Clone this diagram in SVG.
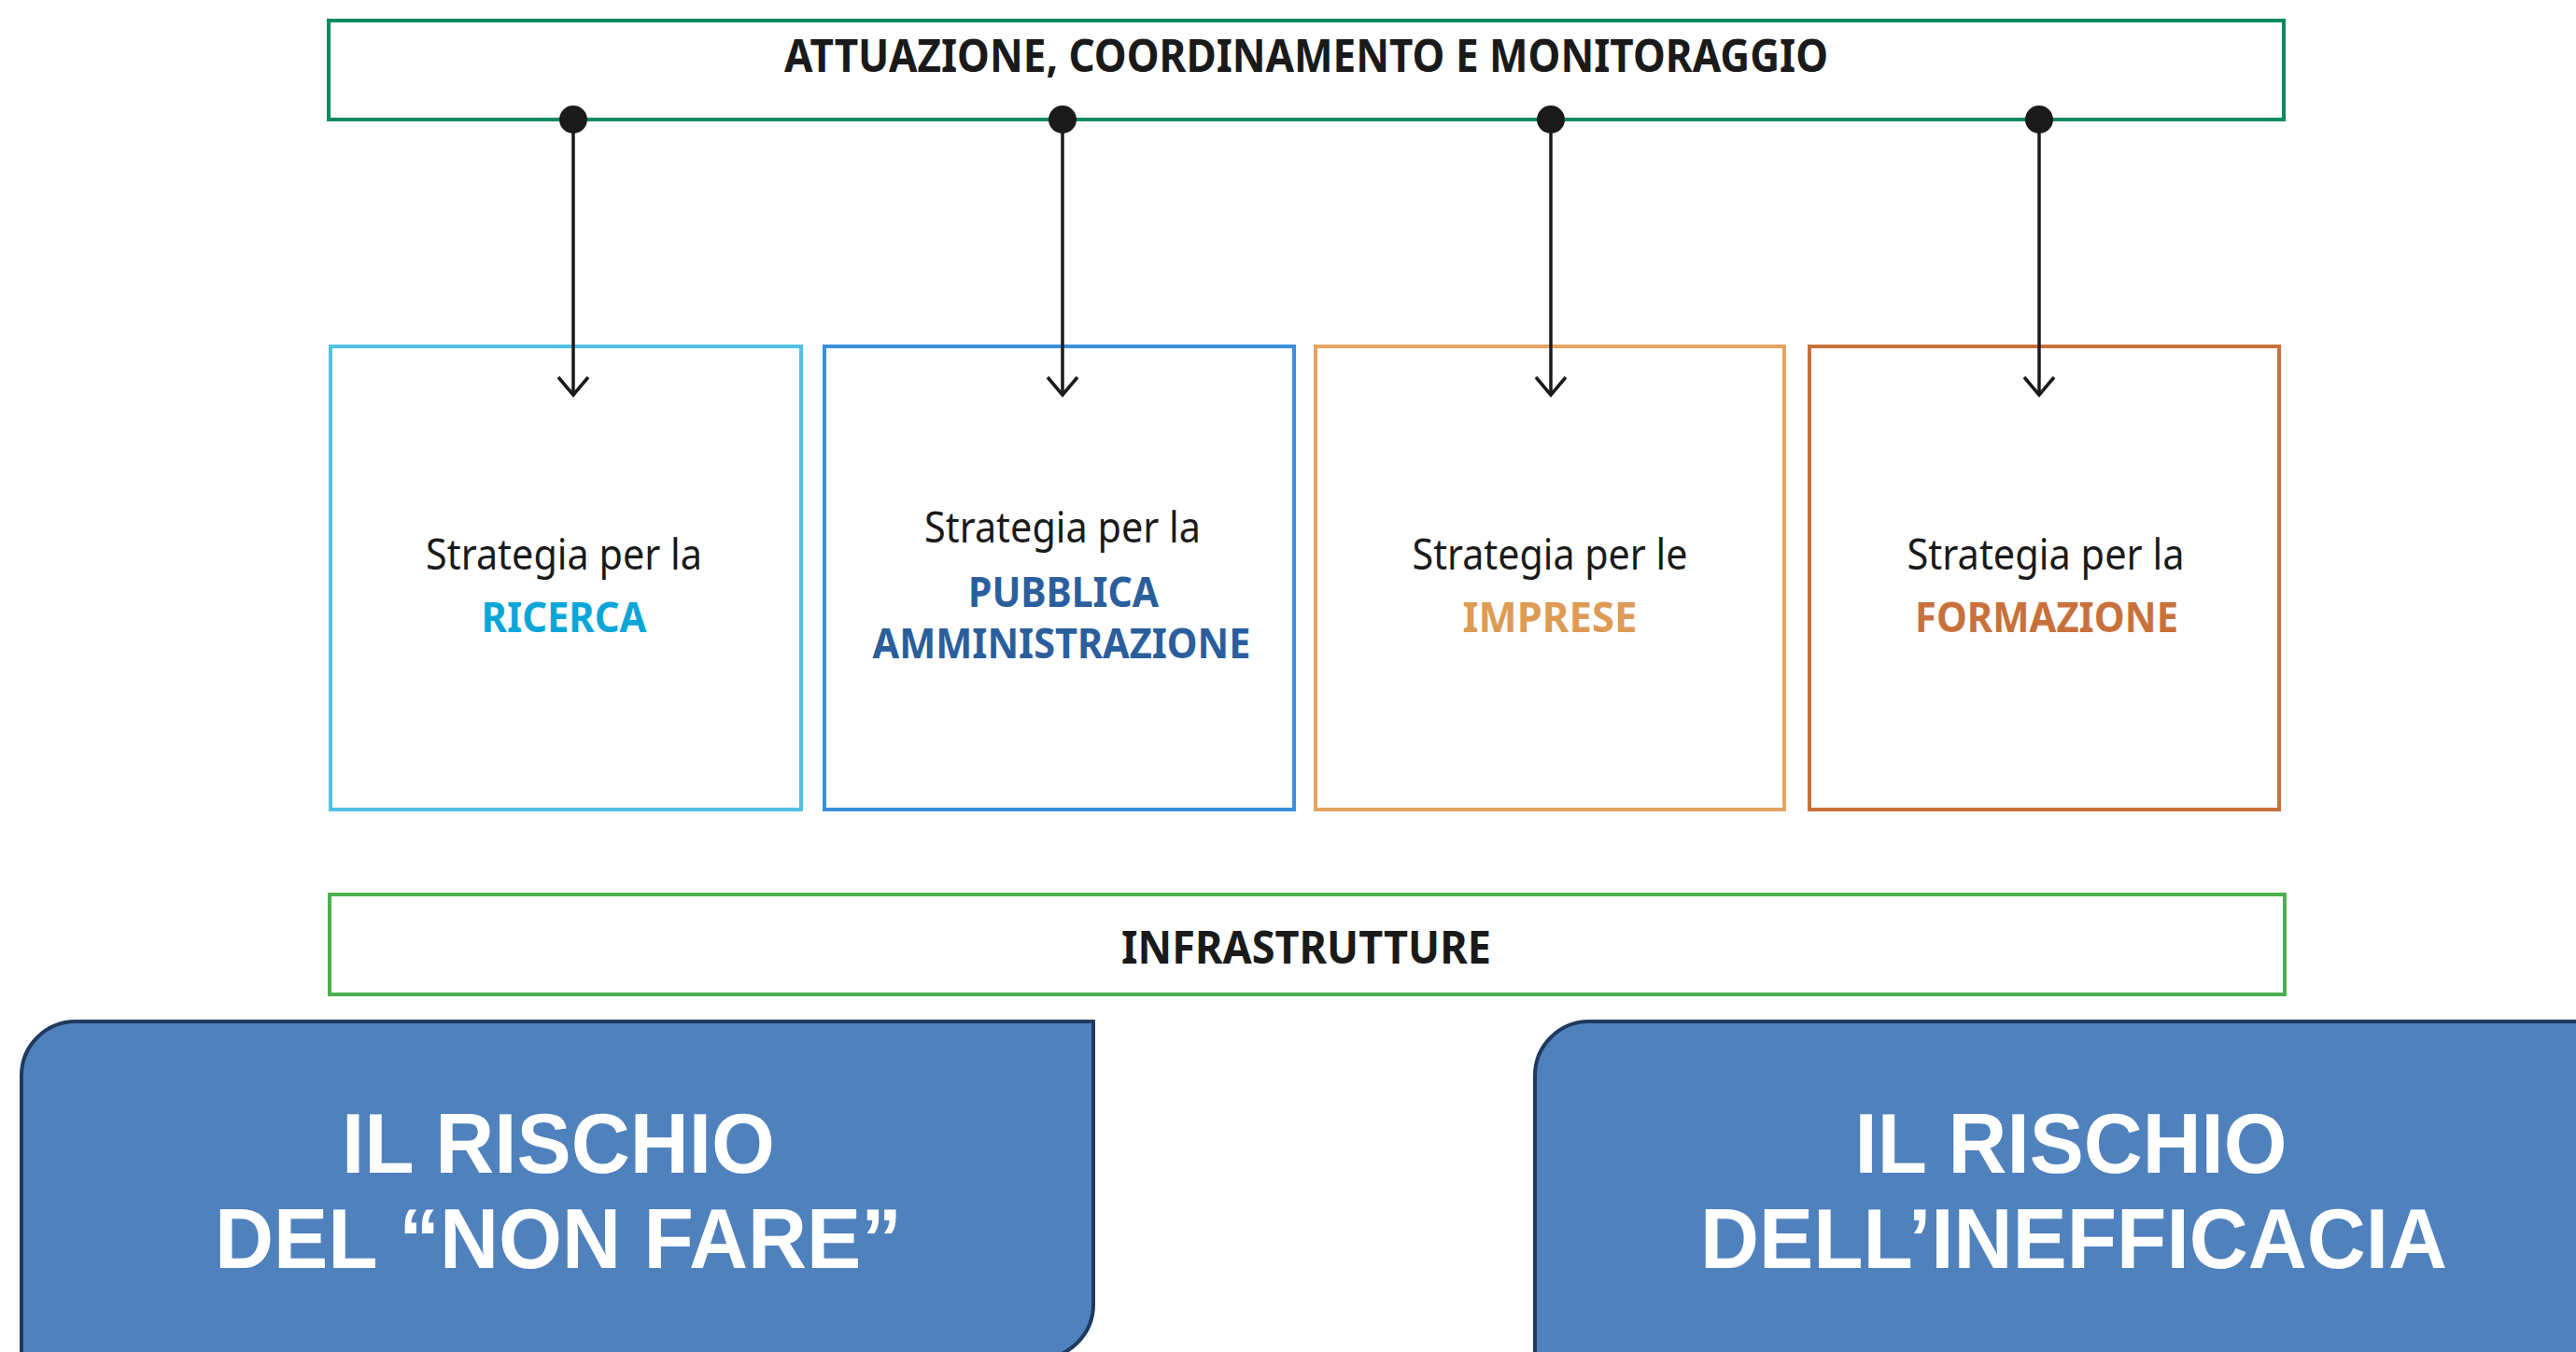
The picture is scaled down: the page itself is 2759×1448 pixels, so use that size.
<svg xmlns="http://www.w3.org/2000/svg" width="2759" height="1448" viewBox="0 0 2759 1448">
<style>
.bg{fill:#ffffff}
.box{fill:#ffffff;stroke-width:4}
.t{font-family:"Noto Sans","Open Sans",sans-serif;fill:#1a1a1a;text-anchor:middle}
.sub{font-size:45px;font-weight:400}
.hd{font-size:49px;font-weight:700}
.kw{font-size:44px;font-weight:700}
.risk{fill:#4f81bd;stroke:#1f3a5f;stroke-width:4}
.rt{font-family:"Liberation Sans",Arial,sans-serif;font-size:91px;font-weight:700;fill:#ffffff;text-anchor:middle}
.conn{stroke:#1a1a1a;stroke-width:3.5;fill:none}
</style>
<defs>
<marker id="arrow" markerUnits="userSpaceOnUse" markerWidth="40" markerHeight="40" viewBox="0 0 40 40" refX="21" refY="20" orient="auto">
<path d="M2,4 L21,20 L2,36" fill="none" stroke="#1a1a1a" stroke-width="3.5"/>
</marker>
<marker id="dot" markerUnits="userSpaceOnUse" markerWidth="34" markerHeight="34" viewBox="0 0 34 34" refX="17" refY="17" orient="auto">
<circle cx="17" cy="17" r="15" fill="#1a1a1a"/>
</marker>
</defs>
<rect class="bg" x="0" y="0" width="2759" height="1448"/>

<g id="node-attuazione">
<rect class="box" x="352" y="22" width="2094" height="106" stroke="#0b8a5e"/>
<text class="t hd" x="1399" y="77" textLength="1118" lengthAdjust="spacingAndGlyphs">ATTUAZIONE, COORDINAMENTO E MONITORAGGIO</text>
</g>

<g id="node-ricerca">
<rect class="box" x="354" y="371" width="504" height="496" stroke="#50c1e6"/>
<text class="t sub" x="604" y="610" textLength="296" lengthAdjust="spacingAndGlyphs">Strategia per la</text>
<text class="t kw" x="604" y="677" textLength="177" lengthAdjust="spacingAndGlyphs" style="fill:#0aa6d8">RICERCA</text>
</g>

<g id="node-pa">
<rect class="box" x="883" y="371" width="503" height="496" stroke="#3990dc"/>
<text class="t sub" x="1138" y="581" textLength="296" lengthAdjust="spacingAndGlyphs">Strategia per la</text>
<text class="t kw" x="1139" y="650" textLength="204" lengthAdjust="spacingAndGlyphs" style="fill:#2a5e9c">PUBBLICA</text>
<text class="t kw" x="1137" y="705" textLength="405" lengthAdjust="spacingAndGlyphs" style="fill:#2a5e9c">AMMINISTRAZIONE</text>
</g>

<g id="node-imprese">
<rect class="box" x="1409" y="371" width="502" height="496" stroke="#e3a462"/>
<text class="t sub" x="1660" y="610" textLength="295" lengthAdjust="spacingAndGlyphs">Strategia per le</text>
<text class="t kw" x="1660" y="677" textLength="187" lengthAdjust="spacingAndGlyphs" style="fill:#dd9b55">IMPRESE</text>
</g>

<g id="node-formazione">
<rect class="box" x="1938" y="371" width="503" height="496" stroke="#c9713a"/>
<text class="t sub" x="2191" y="610" textLength="297" lengthAdjust="spacingAndGlyphs">Strategia per la</text>
<text class="t kw" x="2192" y="677" textLength="282" lengthAdjust="spacingAndGlyphs" style="fill:#c8713b">FORMAZIONE</text>
</g>

<g id="node-infrastrutture">
<rect class="box" x="353" y="958" width="2094" height="107" stroke="#4caf50"/>
<text class="t hd" x="1399" y="1032" textLength="396" lengthAdjust="spacingAndGlyphs">INFRASTRUTTURE</text>
</g>

<g id="node-rischio-non-fare">
<path class="risk" d="M23,1152 A58,58 0 0 1 81,1094 L1171,1094 L1171,1397 A58,58 0 0 1 1113,1455 L23,1455 Z"/>
<text class="rt" x="598" y="1256" textLength="464" lengthAdjust="spacingAndGlyphs">IL RISCHIO</text>
<text class="rt" x="598" y="1358" textLength="736" lengthAdjust="spacingAndGlyphs">DEL “NON FARE”</text>
</g>

<g id="node-rischio-inefficacia">
<path class="risk" d="M1644,1152 A58,58 0 0 1 1702,1094 L2810,1094 L2810,1455 L1644,1455 Z"/>
<text class="rt" x="2218" y="1256" textLength="463" lengthAdjust="spacingAndGlyphs">IL RISCHIO</text>
<text class="rt" x="2221" y="1358" textLength="800" lengthAdjust="spacingAndGlyphs">DELL’INEFFICACIA</text>
</g>

<g id="connectors">
<path class="conn" d="M614,128 L614,423" marker-start="url(#dot)" marker-end="url(#arrow)"/>
<path class="conn" d="M1138,128 L1138,423" marker-start="url(#dot)" marker-end="url(#arrow)"/>
<path class="conn" d="M1661,128 L1661,423" marker-start="url(#dot)" marker-end="url(#arrow)"/>
<path class="conn" d="M2184,128 L2184,423" marker-start="url(#dot)" marker-end="url(#arrow)"/>
</g>
</svg>
